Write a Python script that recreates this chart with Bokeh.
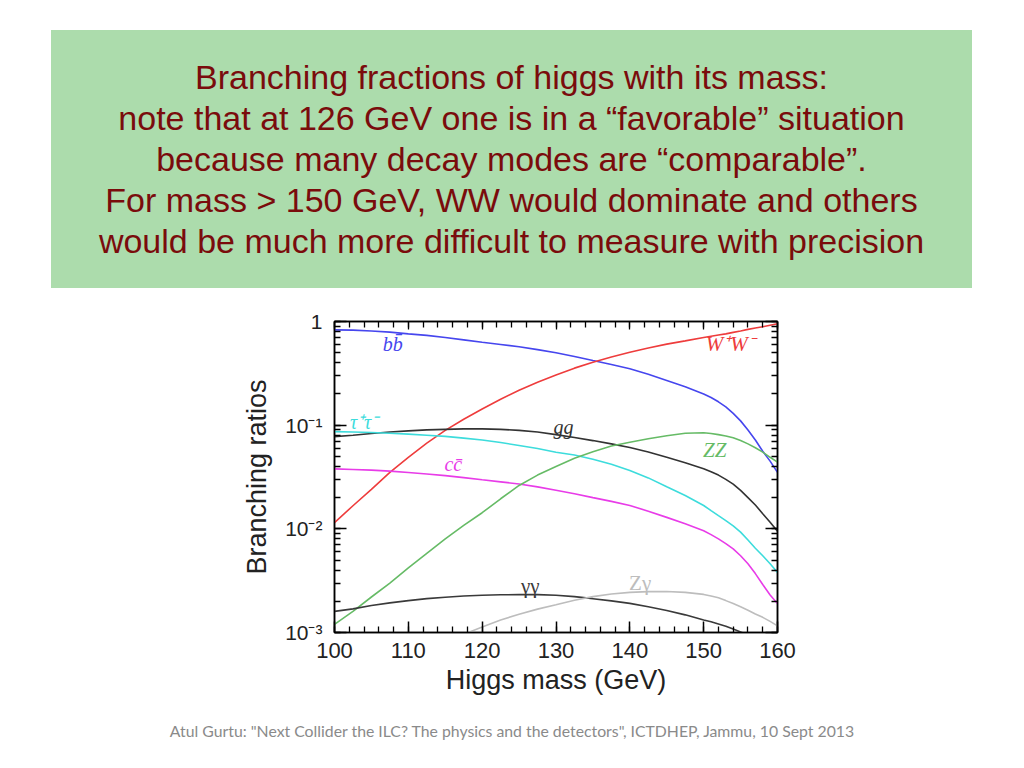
from bokeh.plotting import figure
from bokeh.models import (Div, LinearAxis, LogAxis, SingleIntervalTicker, LogTicker,
                          CustomJSTickFormatter)
from bokeh.layouts import column
from bokeh.core.properties import value
from bokeh.embed import file_html
from bokeh.resources import INLINE

nan = float("nan")

# ---------------- data ----------------
mass = [100, 102.5, 105, 107.5, 110, 112.5, 115, 117.5, 120, 122.5, 125, 127.5, 130, 132.5, 135,
        137.5, 140, 142.5, 145, 147.5, 150, 151, 152, 153, 154, 155, 156, 157, 158, 159, 160]

br_bb = [0.83, 0.825, 0.81, 0.79, 0.76, 0.735, 0.70, 0.665, 0.63, 0.60, 0.57, 0.535, 0.50, 0.46, 0.42,
         0.385, 0.35, 0.31, 0.27, 0.235, 0.20, 0.185, 0.168, 0.15, 0.13, 0.11, 0.09, 0.072, 0.056, 0.045, 0.035]
br_ww = [0.0115, 0.0167, 0.024, 0.035, 0.049, 0.067, 0.089, 0.114, 0.143, 0.178, 0.217, 0.26, 0.305, 0.355, 0.405,
         0.455, 0.505, 0.555, 0.605, 0.65, 0.70, 0.72, 0.74, 0.76, 0.785, 0.81, 0.84, 0.865, 0.89, 0.92, 0.95]
br_gg = [0.0776, 0.080, 0.083, 0.086, 0.088, 0.090, 0.091, 0.092, 0.092, 0.091, 0.089, 0.086, 0.081, 0.076, 0.071,
         0.066, 0.061, 0.055, 0.049, 0.0435, 0.038, 0.0355, 0.033, 0.030, 0.027, 0.0235, 0.020, 0.017, 0.014, 0.0116, 0.0095]
br_tautau = [0.0867, 0.086, 0.085, 0.0835, 0.082, 0.080, 0.078, 0.075, 0.072, 0.068, 0.0636, 0.0595, 0.0548, 0.0515, 0.047,
             0.042, 0.0365, 0.031, 0.0255, 0.021, 0.0168, 0.015, 0.0134, 0.012, 0.0107, 0.0093, 0.0078, 0.0065, 0.0055, 0.0046, 0.0038]
br_cc = [0.0379, 0.0374, 0.0368, 0.0360, 0.0350, 0.0338, 0.0326, 0.0312, 0.0297, 0.0284, 0.0271, 0.0254, 0.0236, 0.0218, 0.0200,
         0.0184, 0.0168, 0.0148, 0.0129, 0.0112, 0.0096, 0.0088, 0.0080, 0.0072, 0.0064, 0.0055, 0.0046, 0.0037, 0.0029, 0.0023, 0.0019]
br_zz = [0.0012, 0.0016, 0.0022, 0.0030, 0.0042, 0.0058, 0.0080, 0.0108, 0.0143, 0.0195, 0.0262, 0.0330, 0.0400, 0.0480, 0.0555,
         0.0630, 0.0685, 0.0740, 0.0790, 0.0835, 0.0845, 0.0830, 0.0810, 0.0785, 0.0755, 0.0710, 0.0660, 0.0605, 0.0550, 0.0490, 0.0440]
br_gamgam = [0.00160, 0.00169, 0.00182, 0.00193, 0.00203, 0.00212, 0.00219, 0.00225, 0.00229, 0.00231, 0.00232, 0.00232, 0.00229, 0.00222, 0.00212,
             0.00202, 0.00191, 0.00177, 0.00163, 0.00148, 0.00132, 0.00127, 0.00121, 0.00115, 0.00108, 0.00101, 0.00095, 0.00089, 0.00083, 0.00077, 0.00071]
br_zgam = [nan, nan, nan, nan, nan, nan, 0.00080, 0.00096, 0.00113, 0.00132, 0.00150, 0.00168, 0.00185, 0.00205, 0.00222,
           0.00235, 0.00244, 0.00248, 0.00249, 0.00244, 0.00233, 0.00225, 0.00216, 0.00203, 0.00190, 0.00177, 0.00164, 0.00151, 0.00140, 0.00128, 0.00116]

series_values = [br_bb, br_ww, br_gg, br_tautau, br_cc, br_zz, br_gamgam, br_zgam]
series_colors = ["#4646ee", "#ee3c3c", "#333333", "#3ddcdc", "#e83ce8", "#66bb66", "#3a3a3a", "#bdbdbd"]

label_texts = ["b\u0062\u0304", "W\u207aW\u207b", "gg", "\u03c4\u207a\u03c4\u207b", "c\u0063\u0304", "ZZ", "\u03b3\u03b3", "Z\u03b3"]
label_mass = [107.9, 153.6, 131.0, 104.0, 116.1, 151.5, 126.5, 141.4]
label_br = [0.61, 0.60, 0.097, 0.108, 0.042, 0.058, 0.0028, 0.0030]
label_styles = ["italic", "italic", "italic", "italic", "italic", "italic", "normal", "normal"]
label_sizes = ["20px", "21px", "20px", "20px", "20px", "21px", "21px", "21px"]

# y tick labels for 1e-3, 1e-2, 1e-1, 1
y_tick_labels = ["10\u207b\u00b3", "10\u207b\u00b2", "10\u207b\u00b9", "1"]

title_lines = [
    "Branching fractions of higgs with its mass:",
    "note that at 126 GeV one is in a \u201cfavorable\u201d situation",
    "because many decay modes are \u201ccomparable\u201d.",
    "For mass &gt; 150 GeV, WW would dominate and others",
    "would be much more difficult to measure with precision",
]
footer_text = "Atul Gurtu: \"Next Collider the ILC? The physics and the detectors\", ICTDHEP, Jammu, 10 Sept 2013"

# ---------------- figure ----------------
SANS = "Liberation Sans"
SERIF = "Liberation Serif"
INK = "#222222"
blank = CustomJSTickFormatter(code="return ''")

p = figure(y_axis_type="log", x_range=(100, 160), y_range=(1e-3, 1.0),
           frame_width=443, frame_height=311,
           min_border_left=334, min_border_right=40, min_border_top=33, min_border_bottom=68,
           output_backend="svg", toolbar_location=None)
p.grid.visible = False
p.outline_line_color = "black"
p.outline_line_width = 1.5
p.background_fill_color = "white"
p.border_fill_color = "white"

for vals, col in zip(series_values, series_colors):
    p.line(mass, vals, line_color=col, line_width=1.6)

for txt, mx, my, st, sz, col in zip(label_texts, label_mass, label_br, label_styles, label_sizes, series_colors):
    p.text(x=[mx], y=[my], text=[txt], text_color=col, text_font=value(SERIF),
           text_font_style=st, text_font_size=sz, text_align="center", text_baseline="middle")

xa = p.xaxis[0]
xa.ticker = SingleIntervalTicker(interval=10, num_minor_ticks=5)
xa.major_tick_in = 11
xa.major_tick_out = 0
xa.minor_tick_in = 6
xa.minor_tick_out = 0
xa.axis_line_width = 1.5
xa.major_tick_line_width = 1.5
xa.minor_tick_line_width = 1.3
xa.major_label_text_font = SANS
xa.major_label_text_font_size = "22px"
xa.major_label_text_color = INK
xa.major_label_standoff = 10
xa.axis_label = "Higgs mass (GeV)"
xa.axis_label_text_font = SANS
xa.axis_label_text_font_size = "27px"
xa.axis_label_text_font_style = "normal"
xa.axis_label_text_color = INK
xa.axis_label_standoff = 4

ya = p.yaxis[0]
ya.ticker = LogTicker(num_minor_ticks=10)
ya.formatter = CustomJSTickFormatter(args=dict(labels=y_tick_labels),
                                     code="const e = Math.round(Math.log10(tick)); return labels[e + 3];")
ya.major_tick_in = 12
ya.major_tick_out = 0
ya.minor_tick_in = 6
ya.minor_tick_out = 0
ya.axis_line_width = 1.5
ya.major_tick_line_width = 1.5
ya.minor_tick_line_width = 1.3
ya.major_label_text_font = SANS
ya.major_label_text_font_size = "21px"
ya.major_label_text_color = INK
ya.major_label_standoff = 12
ya.axis_label = "Branching ratios"
ya.axis_label_text_font = SANS
ya.axis_label_text_font_size = "27px"
ya.axis_label_text_font_style = "normal"
ya.axis_label_text_color = INK
ya.axis_label_standoff = 10

top_axis = LinearAxis(ticker=SingleIntervalTicker(interval=10, num_minor_ticks=5), formatter=blank,
                      major_tick_in=8, major_tick_out=0, minor_tick_in=6, minor_tick_out=0,
                      axis_line_width=1.5, major_tick_line_width=1.3, minor_tick_line_width=1.3)
p.add_layout(top_axis, "above")
right_axis = LogAxis(ticker=LogTicker(num_minor_ticks=10), formatter=blank,
                     major_tick_in=12, major_tick_out=0, minor_tick_in=6, minor_tick_out=0,
                     axis_line_width=1.5, major_tick_line_width=1.5, minor_tick_line_width=1.3)
p.add_layout(right_axis, "right")

# ---------------- slide pieces ----------------
title_html = (
    '<div style="width:921px;height:258px;box-sizing:border-box;background:#acdcac;'
    'padding-top:27px;text-align:center;font-family:\'Liberation Sans\',Arial,sans-serif;'
    'font-size:34px;line-height:41px;color:#7a0c0c;white-space:nowrap;">'
    + "<br>".join(title_lines) + "</div>"
)
top_div = Div(text=title_html, width=921, height=258, margin=(30, 0, 0, 51))

footer_html = (
    '<div style="width:1008px;height:52px;box-sizing:border-box;padding-top:21px;'
    'text-align:center;font-family:Lato,\'Open Sans\',sans-serif;font-size:15.8px;'
    'line-height:20px;color:#8a8a8a;white-space:nowrap;">' + footer_text.replace('"', '&quot;') + "</div>"
)
foot_div = Div(text=footer_html, width=1008, height=52, margin=(0, 0, 0, 8))

layout = column(top_div, p, foot_div, spacing=0)

open("out.html", "w").write(file_html(layout, INLINE))
